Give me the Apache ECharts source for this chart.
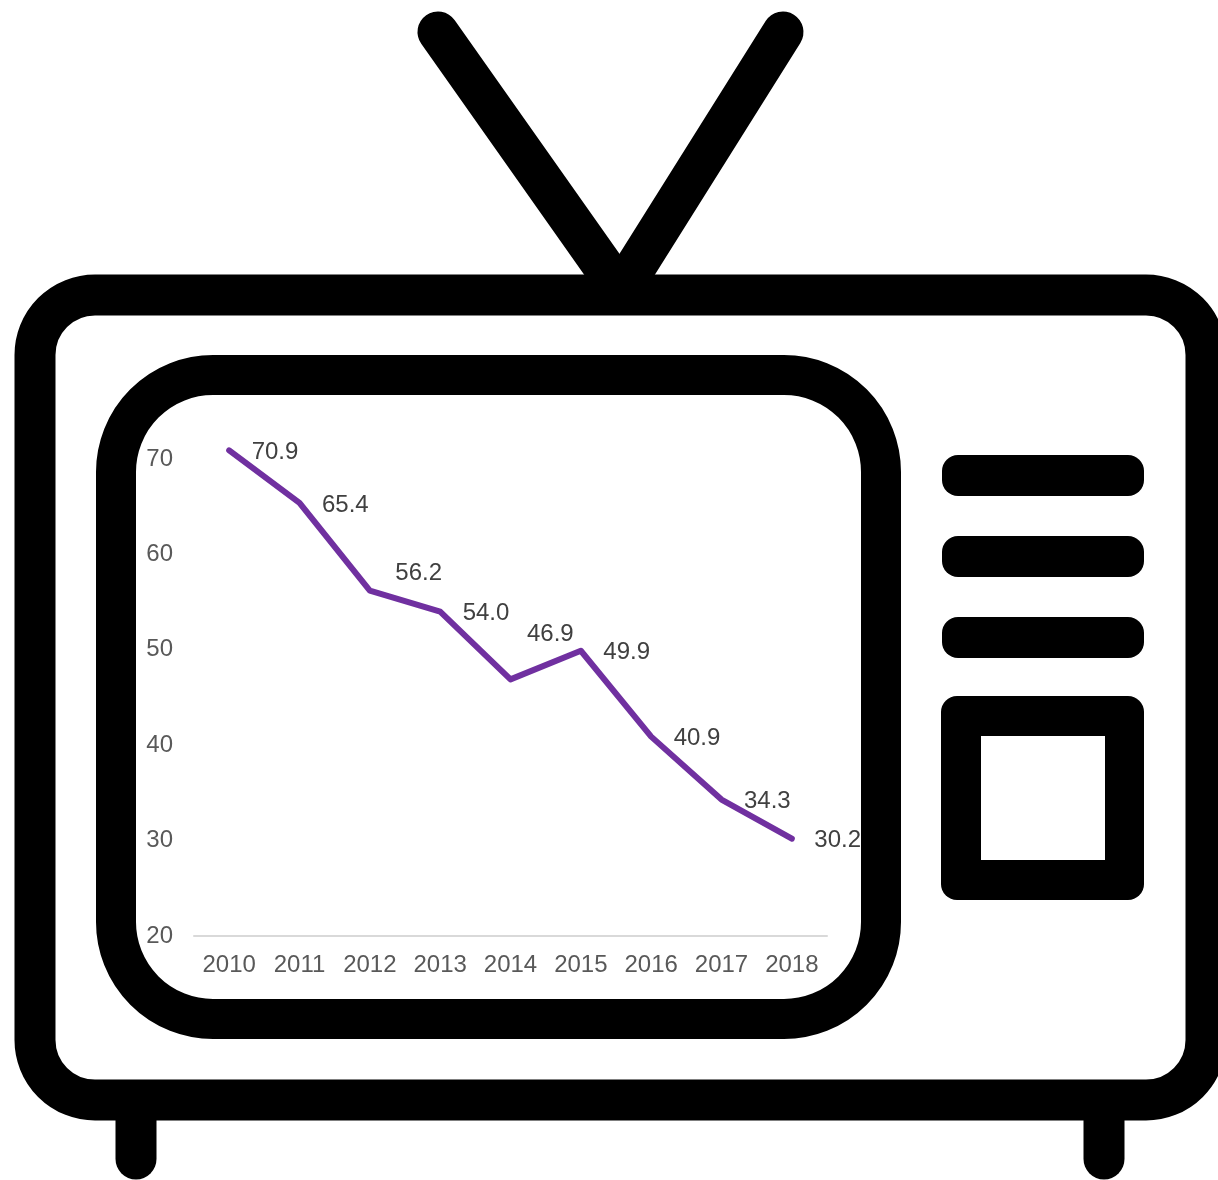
<!DOCTYPE html>
<html><head><meta charset="utf-8">
<style>html,body{margin:0;padding:0;background:#fff}#c{width:1218px;height:1180px}</style>
<script src="https://cdn.jsdelivr.net/npm/echarts@6/dist/echarts.min.js"></script>
</head><body><div id="c"></div>
<script>
const years = ['2010','2011','2012','2013','2014','2015','2016','2017','2018'];
const shareValues = [70.9,65.4,56.2,54.0,46.9,49.9,40.9,34.3,30.2];
const yTicks = {min:20,max:70,interval:10};

const moved = {2:[3,-17],4:[-6,-45]};
const chart = echarts.init(document.getElementById('c'),null,{renderer:'canvas'});
const ff = '"Liberation Sans", Arial, sans-serif';
const K = '#000';
const frame = (x,y,w,h,r,lw)=>({type:'rect',z:-10,shape:{x,y,width:w,height:h,r},style:{fill:'none',stroke:K,lineWidth:lw}});
const solid = (x,y,w,h,r,fill=K)=>({type:'rect',z:-10,shape:{x,y,width:w,height:h,r},style:{fill,stroke:null}});
const line = (x1,y1,x2,y2,lw)=>({type:'line',z:-10,shape:{x1,y1,x2,y2},style:{stroke:K,lineWidth:lw,lineCap:'round'}});
chart.setOption({
  animation:false,
  backgroundColor:'#fff',
  graphic:{elements:[
    line(438,32,620,290,41),
    line(783,32,621,290,41),
    frame(35,295,1171,805,60,41),
    frame(116,375,765,644,97,40),
    solid(942,455,202,41,16),
    solid(942,536,202,41,16),
    solid(942,617,202,41,16),
    solid(941,696,203,204,16),
    solid(981,736,124,124,0,'#fff'),
    line(136,1120,136,1159,41),
    line(1104,1120,1104,1159,41)
  ]},
  grid:{left:194,right:391,top:459,bottom:244},
  xAxis:{type:'category',data:years,boundaryGap:true,
    axisLine:{show:true,lineStyle:{color:'#D9D9D9',width:2}},
    axisTick:{show:false},
    axisLabel:{color:'#595959',fontFamily:ff,fontSize:24,margin:17}},
  yAxis:{type:'value',min:yTicks.min,max:yTicks.max,interval:yTicks.interval,
    axisLine:{show:false},axisTick:{show:false},splitLine:{show:false},
    axisLabel:{color:'#595959',fontFamily:ff,fontSize:24,margin:21,padding:[8,0,0,0]}},
  series:[{type:'line',clip:false,symbol:'circle',symbolSize:1,showSymbol:true,showAllSymbol:true,
    itemStyle:{color:'#7030A0'},
    lineStyle:{color:'#7030A0',width:6,cap:'round',join:'round'},
    data:shareValues.map((v,i)=>({value:v,label:{offset:moved[i]||[0,2]}})),
    label:{show:true,position:'right',distance:22,color:'#404040',fontFamily:ff,fontSize:24,
      formatter:p=>Number(p.value).toFixed(1)}}]
});
</script></body></html>
